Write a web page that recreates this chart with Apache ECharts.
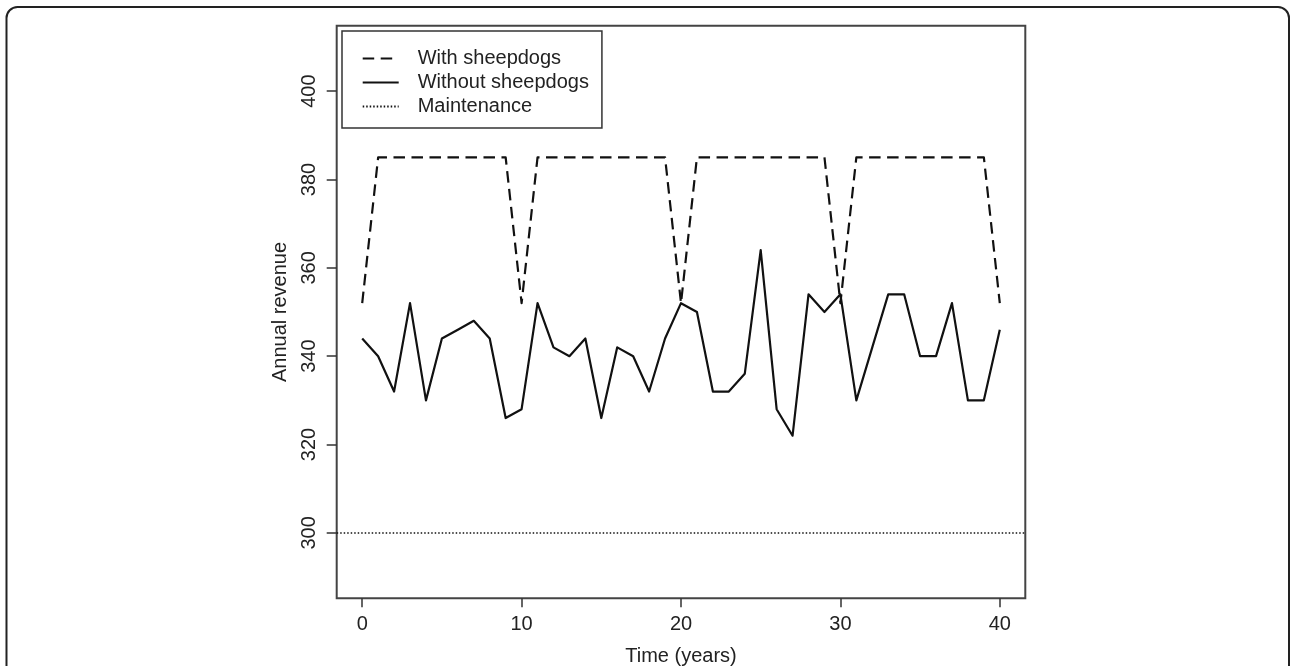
<!DOCTYPE html>
<html>
<head>
<meta charset="utf-8">
<script src="https://cdn.jsdelivr.net/npm/echarts@6/dist/echarts.min.js"></script>
<style>
html,body{margin:0;padding:0;background:#fff;}
#chart{width:1290px;height:666px;}
</style>
</head>
<body>
<div id="chart"></div>
<script>
// ---- data ----
const years = [0,1,2,3,4,5,6,7,8,9,10,11,12,13,14,15,16,17,18,19,20,21,22,23,24,25,26,27,28,29,30,31,32,33,34,35,36,37,38,39,40];
const withSheepdogs = [352,385,385,385,385,385,385,385,385,385,352,385,385,385,385,385,385,385,385,385,352,385,385,385,385,385,385,385,385,385,352,385,385,385,385,385,385,385,385,385,352];
const withoutSheepdogs = [344,340,332,352,330,344,346,348,344,326,328,352,342,340,344,326,342,340,332,344,352,350,332,332,336,364,328,322,354,350,354,330,342,354,354,340,340,352,330,330,346];
const maintenance = 300;
const xTicks = [0,10,20,30,40];
const yTicks = [300,320,340,360,380,400];
const seriesNames = ['With sheepdogs','Without sheepdogs','Maintenance'];

const FONT = 'Liberation Sans';
const FS = 20;
const chart = echarts.init(document.getElementById('chart'), null, {renderer:'canvas'});

const pairs = arr => years.map((t,i)=>[t, arr[i]]);

chart.setOption({
  animation:false,
  backgroundColor:'#fff',
  textStyle:{fontFamily:FONT},
  grid:{left:336.7, top:25.7, right:264.7, bottom:67.7, outerBoundsMode:'none', containLabel:false,
        show:true, borderColor:'#444', borderWidth:2, backgroundColor:'transparent'},
  xAxis:{
    type:'value', min:-1.6, max:41.6,
    name:'Time (years)', nameLocation:'middle', nameGap:48,
    nameTextStyle:{fontFamily:FONT, fontSize:FS, color:'#222'},
    axisLine:{show:false, onZero:false},
    splitLine:{show:false},
    axisTick:{show:true, inside:false, length:9, customValues:xTicks, lineStyle:{color:'#333', width:1.5}},
    axisLabel:{customValues:xTicks, margin:16, fontFamily:FONT, fontSize:FS, color:'#222'}
  },
  yAxis:{
    type:'value', min:285.2, max:414.8,
    name:'Annual revenue', nameLocation:'middle', nameGap:46,
    nameTextStyle:{fontFamily:FONT, fontSize:FS, color:'#222'},
    axisLine:{show:false, onZero:false},
    splitLine:{show:false},
    axisTick:{show:true, inside:false, length:10, customValues:yTicks, lineStyle:{color:'#333', width:1.5}},
    axisLabel:{customValues:yTicks, rotate:90, margin:17, fontFamily:FONT, fontSize:FS, color:'#222'}
  },
  legend:{
    orient:'vertical', left:342, top:31,
    data:seriesNames,
    itemWidth:36, itemHeight:14, itemGap:4,
    padding:[17.4,13,11.6,19.7],
    borderColor:'#333', borderWidth:1.5, borderRadius:0,
    backgroundColor:'#fff',
    itemStyle:{color:'rgba(0,0,0,0)', borderColor:'rgba(0,0,0,0)', borderWidth:0},
    formatter: n => '{p|}' + n,
    textStyle:{fontFamily:FONT, fontSize:FS, color:'#222', rich:{p:{width:14}}},
    selectedMode:false
  },
  series:[
    {name:seriesNames[0], type:'line', data:pairs(withSheepdogs), symbol:'none', z:3,
     lineStyle:{color:'#111', width:2.2, type:[11.5,6.5], cap:'butt', join:'round'},
     itemStyle:{color:'#111'}},
    {name:seriesNames[1], type:'line', data:pairs(withoutSheepdogs), symbol:'none', z:4,
     lineStyle:{color:'#111', width:2.2, type:'solid', join:'round'},
     itemStyle:{color:'#111'}},
    {name:seriesNames[2], type:'line', data:[], symbol:'none',
     lineStyle:{color:'#111', width:1.5, type:[1.5,2]},
     itemStyle:{color:'#111'},
     markLine:{symbol:['none','none'], silent:true, label:{show:false},
       lineStyle:{color:'#111', width:1.5, type:[1.5,2]},
       data:[{yAxis:maintenance}]}}
  ],
  graphic:[
    {type:'rect', silent:true, z:100,
     shape:{x:6.5, y:7, width:1282.5, height:720, r:11},
     style:{fill:null, stroke:'#222', lineWidth:2}}
  ]
});
</script>
</body>
</html>
